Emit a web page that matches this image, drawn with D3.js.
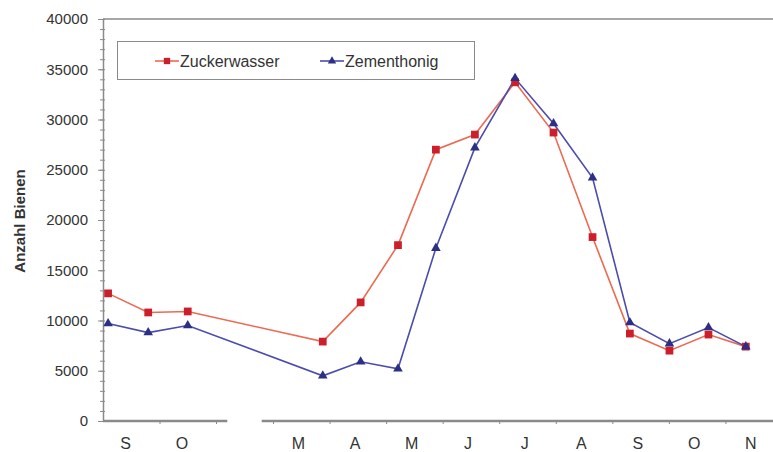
<!DOCTYPE html>
<html>
<head>
<meta charset="utf-8">
<script src="https://cdn.jsdelivr.net/npm/d3@7"></script>
<style>
  body { margin: 0; background: #fff; }
  svg text { font-family: "Liberation Sans", Arial, sans-serif; fill: #333; }
</style>
</head>
<body>
<div id="chart"></div>
<script>
// Month labels for the two parts of the broken time axis
const leftMonths = ["S", "O"];
const rightMonths = ["M", "A", "M", "J", "J", "A", "S", "O", "N"];

// Sampling dates, in months from the start of each part (Sept. / March)
const leftPos = [0.09, 0.8, 1.5];
const rightPos = [0.88, 1.55, 2.21, 2.88, 3.57, 4.28, 4.96, 5.65, 6.31, 7.01, 7.70, 8.36];

// Anzahl Bienen
const zuckerLeft = [12700, 10800, 10900];
const zuckerRight = [7900, 11800, 17500, 27000, 28500, 33700, 28700, 18300, 8700, 7000, 8600, 7400];
const zementLeft = [9700, 8800, 9500];
const zementRight = [4500, 5900, 5200, 17200, 27200, 34100, 29600, 24200, 9800, 7700, 9300, 7400];

const yTicks = [0, 5000, 10000, 15000, 20000, 25000, 30000, 35000, 40000];

const width = 773;
const height = 452;

const svg = d3.select("#chart")
  .append("svg")
    .attr("width", width)
    .attr("height", height);

// Scales
const y = d3.scaleLinear().domain([0, 40000]).range([421, 19]);
const xLeft = d3.scaleLinear().domain([0, 2]).range([103, 216]);
const xRight = d3.scaleLinear().domain([0, 9]).range([273, 782]);

const axisColor = "#8a8a8a";

// top frame line
svg.append("line")
  .attr("x1", 103).attr("x2", width)
  .attr("y1", y(40000)).attr("y2", y(40000))
  .attr("stroke", axisColor).attr("stroke-width", 1.5);

// Y axis: minor ticks every 1000
const yMinor = svg.append("g")
  .attr("transform", "translate(103,0)")
  .call(d3.axisLeft(y).tickValues(d3.range(0, 40001, 1000)).tickSize(3).tickFormat(""));
yMinor.select(".domain").remove();
yMinor.selectAll(".tick line").attr("stroke", axisColor).attr("x2", -3).attr("x1", 2);

const yAxis = svg.append("g")
  .attr("transform", "translate(103,0)")
  .call(d3.axisLeft(y).tickValues(yTicks).tickFormat(d3.format("d"))
    .tickSize(5).tickPadding(10).tickSizeOuter(0));
yAxis.select(".domain").attr("stroke", axisColor).attr("stroke-width", 1.5);
yAxis.selectAll(".tick line").attr("stroke", axisColor);
yAxis.selectAll(".tick text")
  .style("font-size", "15px")
  .attr("fill", "#333");

// X axis, two parts with a gap
const xAxisL = svg.append("g")
  .attr("transform", `translate(0,${y(0)})`)
  .call(d3.axisBottom(xLeft).tickValues([1, 2]).tickSize(3).tickFormat("").tickSizeOuter(0));
xAxisL.select(".domain").attr("d", `M${xLeft(0)},0H${xLeft(2.2)}`)
  .attr("stroke", axisColor).attr("stroke-width", 2.5);
xAxisL.selectAll(".tick line").attr("stroke", axisColor);

const xAxisR = svg.append("g")
  .attr("transform", `translate(0,${y(0)})`)
  .call(d3.axisBottom(xRight).tickValues(d3.range(0, 9)).tickSize(3).tickFormat("").tickSizeOuter(0));
xAxisR.select(".domain").attr("d", `M${xRight(-0.2)},0H${width}`)
  .attr("stroke", axisColor).attr("stroke-width", 2.5);
xAxisR.selectAll(".tick line").attr("stroke", axisColor);

// month labels centred in each month
svg.selectAll(".month-left")
  .data(leftMonths)
  .join("text")
    .attr("class", "month-left")
    .attr("x", (d, i) => xLeft(i + 0.4))
    .attr("y", 449)
    .attr("text-anchor", "middle")
    .style("font-size", "16px")
    .text(d => d);

svg.selectAll(".month-right")
  .data(rightMonths)
  .join("text")
    .attr("class", "month-right")
    .attr("x", (d, i) => xRight(i + 0.45))
    .attr("y", 449)
    .attr("text-anchor", "middle")
    .style("font-size", "16px")
    .text(d => d);

// Y label
svg.append("text")
  .attr("transform", `translate(25,${y(20000) + 1}) rotate(-90)`)
  .attr("text-anchor", "middle")
  .style("font-size", "15px")
  .style("font-weight", "bold")
  .text("Anzahl Bienen");

// Series
const toPoints = (pl, vl, pr, vr) =>
  pl.map((p, i) => ({ x: xLeft(p), v: vl[i] }))
    .concat(pr.map((p, i) => ({ x: xRight(p), v: vr[i] })));

const series = [
  { name: "Zuckerwasser", line: "#ec6a52", mark: "#cc1f2a", shape: d3.symbolSquare,
    points: toPoints(leftPos, zuckerLeft, rightPos, zuckerRight) },
  { name: "Zementhonig", line: "#4c4cae", mark: "#2b2f85", shape: d3.symbolTriangle,
    points: toPoints(leftPos, zementLeft, rightPos, zementRight) }
];

const line = d3.line().x(d => d.x).y(d => y(d.v));

series.forEach(s => {
  svg.append("path")
    .datum(s.points)
    .attr("fill", "none")
    .attr("stroke", s.line)
    .attr("stroke-width", 1.6)
    .attr("d", line);
});

series.forEach(s => {
  svg.selectAll(null)
    .data(s.points)
    .join("path")
      .attr("transform", d => `translate(${d.x},${y(d.v)})`)
      .attr("d", d3.symbol(s.shape, s.shape === d3.symbolSquare ? 60 : 40))
      .attr("fill", s.mark);
});

// Legend
const legend = svg.append("g");
legend.append("rect")
  .attr("x", 117.5).attr("y", 41.5)
  .attr("width", 357).attr("height", 38)
  .attr("fill", "#fff")
  .attr("stroke", "#8a8a8a");

const legendX = [155, 320];
series.forEach((s, i) => {
  const g = legend.append("g").attr("transform", `translate(${legendX[i]},61)`);
  g.append("line")
    .attr("x1", 0).attr("x2", 24)
    .attr("stroke", s.line).attr("stroke-width", 1.6);
  g.append("path")
    .attr("transform", "translate(12,0)")
    .attr("d", d3.symbol(s.shape, s.shape === d3.symbolSquare ? 40 : 30))
    .attr("fill", s.mark);
  g.append("text")
    .attr("x", 25)
    .attr("y", 5.5)
    .style("font-size", "16px")
    .text(s.name);
});
</script>
</body>
</html>
